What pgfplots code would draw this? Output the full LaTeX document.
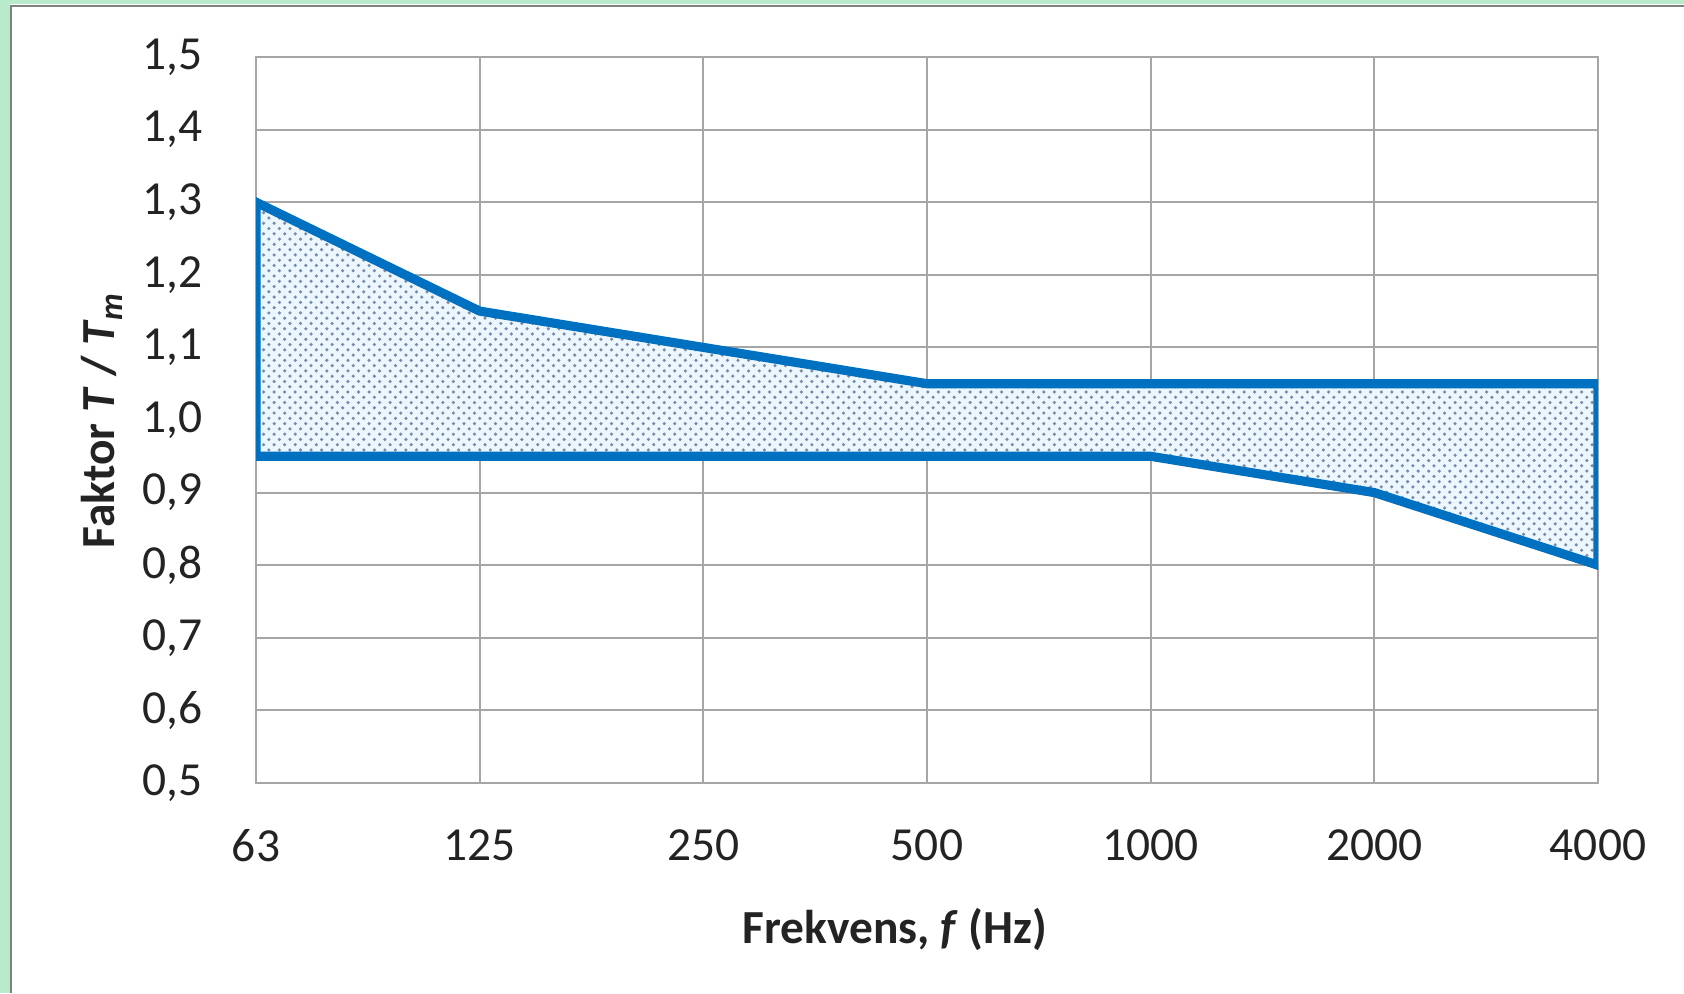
\documentclass[border=0pt]{standalone}
\usepackage{pgfplots}
\pgfplotsset{compat=1.18}
\usepackage{fontspec}
\setmainfont{Carlito}
\usetikzlibrary{patterns}

\definecolor{bandblue}{RGB}{0,112,192}
\definecolor{bandfill}{RGB}{236,246,253}
\definecolor{dotcol}{RGB}{120,140,170}
\definecolor{gridgray}{RGB}{166,166,166}
\definecolor{framegreen}{RGB}{185,234,204}
\definecolor{txt}{RGB}{35,35,35}

\begin{document}
\begin{tikzpicture}
% page and frame (px -> 0.1 mm)
\useasboundingbox (0,0) rectangle (168.4mm,99.3mm);
\fill[framegreen] (0,0) rectangle (1.0mm,99.3mm);
\fill[framegreen] (0,98.9mm) rectangle (168.4mm,99.3mm);
\draw[gray, line width=0.25mm] (1.1mm,0) -- (1.1mm,98.7mm) -- (168.4mm,98.7mm);

\begin{axis}[
    at={(25.6mm,21.0mm)}, anchor=south west,
    scale only axis,
    width=134.2mm, height=72.6mm,
    xmin=0, xmax=6,
    ymin=0.5, ymax=1.5,
    xtick={0,...,6},
    xticklabels={63,125,250,500,1000,2000,4000},
    ytick={0.5,0.6,...,1.5},
    grid=major,
    major grid style={gridgray, line width=0.55pt},
    axis line style={gridgray, line width=0.55pt},
    tick style={draw=none},
    /pgf/number format/assume math mode=true,
    /pgf/number format/.cd, use comma, fixed, fixed zerofill, precision=1,
    /pgfplots/.cd,
    ticklabel style={font=\fontsize{13.5}{15}\selectfont, text=txt},
    xticklabel style={yshift=-3.4mm},
    yticklabel style={xshift=-4.1mm},
    xlabel={\textbf{Frekvens, \textit{f} (Hz)}},
    ylabel={\textbf{Faktor \textit{T} / \textit{T}\textsubscript{\textit{m}}}},
    label style={font=\fontsize{13.5}{15}\selectfont, text=txt},
    xlabel style={at={(axis description cs:0.5,0)}, anchor=center, yshift=-14.6mm, xshift=-3.2mm},
    ylabel style={at={(axis description cs:0,0.5)}, anchor=center, yshift=15.4mm},
]
\addplot[draw=none, fill=bandfill,
    postaction={pattern=crosshatch dots, pattern color=dotcol}]
coordinates {
(0,1.30) (1,1.15) (2,1.10) (3,1.05) (4,1.05) (5,1.05) (6,1.05)
(6,0.80) (5,0.90) (4,0.95) (3,0.95) (2,0.95) (1,0.95) (0,0.95)
} -- cycle;
\addplot[draw=bandblue, line width=2.6pt, line join=miter, mark=none]
coordinates {
(0,1.30) (1,1.15) (2,1.10) (3,1.05) (4,1.05) (5,1.05) (6,1.05)
(6,0.80) (5,0.90) (4,0.95) (3,0.95) (2,0.95) (1,0.95) (0,0.95)
} -- cycle;
\end{axis}
\end{tikzpicture}
\end{document}
